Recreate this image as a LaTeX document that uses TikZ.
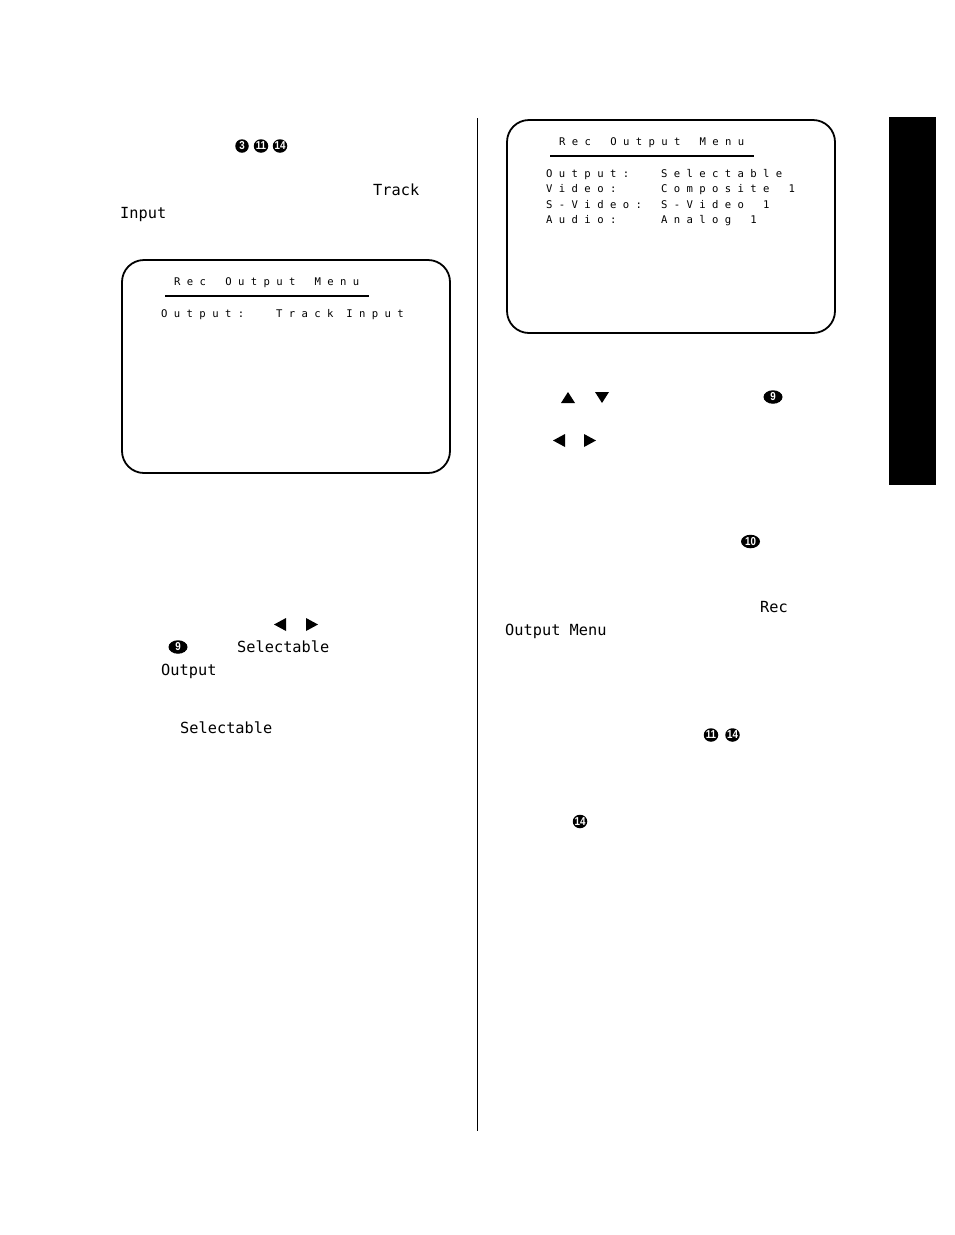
\documentclass[tikz,border=0pt]{standalone}
\usepackage{fontspec}
\setmonofont{DejaVu Sans Mono}
\newfontfamily\badgefont{Liberation Sans}[FakeStretch=0.85]
\usetikzlibrary{shapes.geometric, positioning}

\begin{document}
\begin{tikzpicture}[x=1pt, y=-1pt,
  osd/.style={anchor=base west, inner sep=0pt, font=\ttfamily\fontsize{10.6}{13}\selectfont},
  body/.style={anchor=base west, inner sep=0pt, font=\ttfamily\fontsize{15.3}{18}\selectfont},
  badge/.style={ellipse, fill=black, text=white, inner sep=-3pt, minimum width=#1, minimum height=13.5pt,
    font=\badgefont\bfseries\fontsize{11.5}{11.5}\selectfont},
  badge/.default=14.5pt,
  screen/.style={draw, line width=1.8pt, rounded corners=22pt}]
\useasboundingbox (0,0) rectangle (954,1235);

	\draw [line width=1.3pt] (477.5,118) -- (477.5,1131);
	\fill (889,117) rectangle (936,485);

\def\scrx{122}
\def\scry{260}
 		\draw [screen] (\scrx,\scry) rectangle ++(328,213);
 		\node [osd] (ltitle) at (\scrx+52,\scry+25) {R~e~c~~~O~u~t~p~u~t~~~M~e~n~u};
 		\draw [line width=1.2pt] (\scrx+43,\scry+36) -- ++(204,0);
 		\node [osd] (lout) at (\scrx+39,\scry+57) {O~u~t~p~u~t~:~~~~~T~r~a~c~k~~I~n~p~u~t};

\def\scrx{507}
\def\scry{120}
 		\draw [screen] (\scrx,\scry) rectangle ++(328,213);
 		\node [osd] (rtitle) at (\scrx+52,\scry+25) {R~e~c~~~O~u~t~p~u~t~~~M~e~n~u};
 		\draw [line width=1.2pt] (\scrx+43,\scry+36) -- ++(204,0);
 		\node [osd] (rout) at (\scrx+39,\scry+57) {O~u~t~p~u~t~:~~~~~S~e~l~e~c~t~a~b~l~e};
 		\node [osd] (rvid) at (\scrx+39,\scry+72.5) {V~i~d~e~o~:~~~~~~~C~o~m~p~o~s~i~t~e~~~1};
 		\node [osd] (rsvid) at (\scrx+39,\scry+88) {S~-~V~i~d~e~o~:~~~S~-~V~i~d~e~o~~~1};
 		\node [osd] (raud) at (\scrx+39,\scry+103.5) {A~u~d~i~o~:~~~~~~~A~n~a~l~o~g~~~1};

	\node [badge=13.5pt] (b3) at (242,146) {3};
	\node [badge] (b11) at (261,146) {11};
	\node [badge] (b14) at (280,146) {14};
	\node [body] (track) at (373,195) {Track};
	\node [body] (input) at (120,218) {Input};

	\fill (286,618) -- (286,631) -- (274,624.5) -- cycle;
	\fill (306,618) -- (306,631) -- (318,624.5) -- cycle;
	\node [badge=19pt] (b9l) at (178,647) {9};
	\node [body] (sel1) at (237,652) {Selectable};
	\node [body] (outp) at (161,675) {Output};
	\node [body] (sel2) at (180,733) {Selectable};

	\fill (561,403) -- (575,403) -- (568,392) -- cycle;
	\fill (595,392) -- (609,392) -- (602,403) -- cycle;
	\node [badge=19pt] (b9r) at (773,397) {9};
	\fill (565,434) -- (565,447) -- (553,440.5) -- cycle;
	\fill (584,434) -- (584,447) -- (596,440.5) -- cycle;
	\node [badge=19pt] (b10) at (750.5,541.5) {10};
	\node [body] (rec) at (760,612) {Rec};
	\node [body] (outmenu) at (505,635) {Output Menu};
	\node [badge] (b11r) at (711,735) {11};
	\node [badge] (b14r) at (732.5,735) {14};
	\node [badge] (b14b) at (580,821.5) {14};
\end{tikzpicture}
\end{document}
